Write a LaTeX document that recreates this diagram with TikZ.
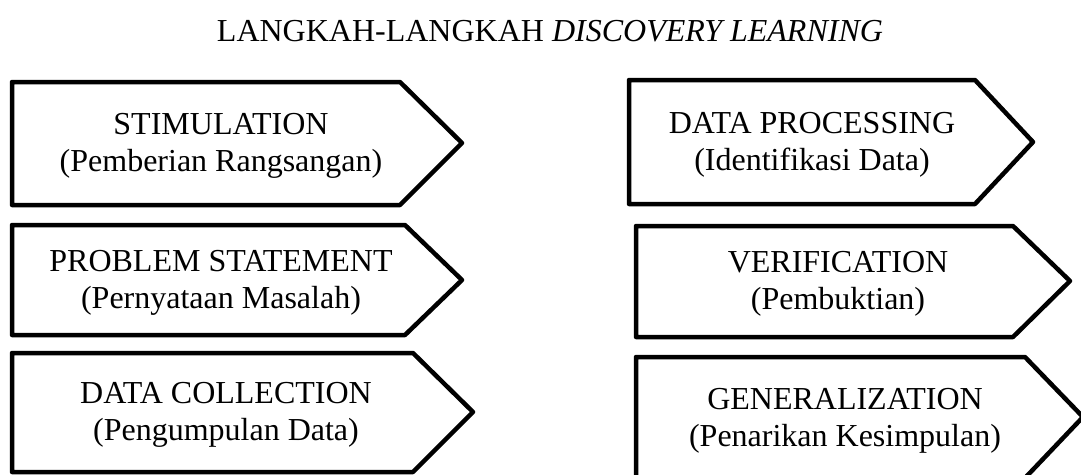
\documentclass[tikz,border=0pt]{standalone}
\usepackage{fontspec}
\setmainfont{Liberation Serif}
\begin{document}
\begin{tikzpicture}[x=1pt,y=-1pt,
  arrowbox/.style={draw=black,line width=4.5pt,line join=round,fill=white},
  lbl/.style={align=center,inner sep=0pt,font=\fontsize{32}{37}\selectfont},
  ttl/.style={inner sep=0pt,font=\fontsize{32}{36}\selectfont}]
\useasboundingbox (0,0) rectangle (1081,474);
\node[ttl] (title) at (550,31) {LANGKAH-LANGKAH \textit{DISCOVERY LEARNING}};
% left column
\draw[arrowbox] (12,82) -- (400,82) -- (462,143) -- (400,205) -- (12,205) -- cycle;
\node[lbl] (s1) at (221,146) {STIMULATION\\(Pemberian Rangsangan)};
\draw[arrowbox] (12,225) -- (405,225) -- (462,280) -- (405,335) -- (12,335) -- cycle;
\node[lbl] (s2) at (221,283) {PROBLEM STATEMENT\\(Pernyataan Masalah)};
\draw[arrowbox] (12,353) -- (413,353) -- (473,412) -- (413,472) -- (12,472) -- cycle;
\node[lbl] (s3) at (226,415) {DATA COLLECTION\\(Pengumpulan Data)};
% right column
\draw[arrowbox] (629,80) -- (975,80) -- (1033,142) -- (975,204) -- (629,204) -- cycle;
\node[lbl] (s4) at (812,145) {DATA PROCESSING\\(Identifikasi Data)};
\draw[arrowbox] (636,226) -- (1013,226) -- (1070,281) -- (1013,337) -- (636,337) -- cycle;
\node[lbl] (s5) at (838,284) {VERIFICATION\\(Pembuktian)};
\draw[arrowbox] (636,357) -- (1025,357) -- (1083,417) -- (1025,478) -- (636,478) -- cycle;
\node[lbl] (s6) at (845,421) {GENERALIZATION\\(Penarikan Kesimpulan)};
\end{tikzpicture}
\end{document}
